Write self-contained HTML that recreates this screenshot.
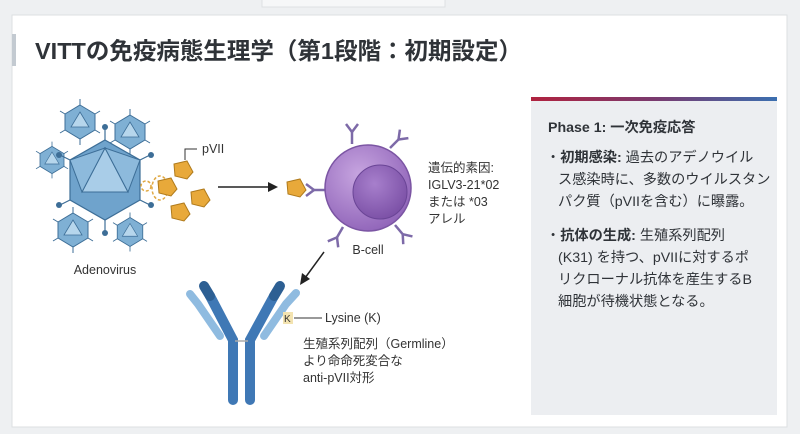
<!DOCTYPE html>
<html><head><meta charset="utf-8"><style>
html,body{margin:0;padding:0;width:800px;height:434px;overflow:hidden;background:#eef0f2;font-family:"Liberation Sans","Noto Sans CJK JP",sans-serif;}
</style></head><body>
<svg width="800" height="434" xmlns="http://www.w3.org/2000/svg" font-family="Liberation Sans, Noto Sans CJK JP, sans-serif">
<defs>
<linearGradient id="bar" x1="0" x2="1"><stop offset="0" stop-color="#b0223f"/><stop offset="0.5" stop-color="#7a3a6e"/><stop offset="1" stop-color="#3b6fb0"/></linearGradient>
<radialGradient id="cell" cx="0.4" cy="0.35" r="0.7"><stop offset="0" stop-color="#c7a5e0"/><stop offset="1" stop-color="#8f63b8"/></radialGradient>
<radialGradient id="nuc" cx="0.4" cy="0.35" r="0.7"><stop offset="0" stop-color="#a77fcc"/><stop offset="1" stop-color="#7a4fa5"/></radialGradient>
<g id="sv"><polygon points="0,-17 15,-8 15,8 0,17 -15,8 -15,-8" fill="#7fb0d4" stroke="#3d6e97" stroke-width="1"/><polygon points="0,-10 9,5 -9,5" fill="#b6d6ec" stroke="#3d6e97" stroke-width="0.8"/>
<g stroke="#3d6e97" stroke-width="1"><line x1="0" y1="-17" x2="0" y2="-23"/><line x1="0" y1="17" x2="0" y2="23"/><line x1="15" y1="-8" x2="20" y2="-11"/><line x1="-15" y1="-8" x2="-20" y2="-11"/><line x1="15" y1="8" x2="20" y2="11"/><line x1="-15" y1="8" x2="-20" y2="11"/></g></g>
<g id="frag"><polygon points="-9,-6 4,-9 10,2 4,9 -8,6" fill="#e8a93a" stroke="#b07b1c" stroke-width="1"/></g>
<g id="rec" stroke="#7d6aa8" stroke-width="2.5" fill="none"><line x1="0" y1="0" x2="0" y2="-12"/><line x1="0" y1="-12" x2="-6" y2="-20"/><line x1="0" y1="-12" x2="6" y2="-20"/></g>
</defs>
<rect x="262" y="-2" width="183" height="9" fill="#f6f7f8" stroke="#dde0e3"/>
<rect x="12" y="15" width="775" height="412" fill="#fff" stroke="#dcdfe2"/>
<rect x="12" y="34" width="4" height="32" fill="#c3cad1"/>
<text x="35" y="59" font-size="23.5" font-weight="bold" fill="#2f3338">VITTの免疫病態生理学（第1段階：初期設定）</text>
<!-- panel -->
<rect x="531" y="97" width="246" height="318" fill="#eceef1"/>
<rect x="531" y="97" width="246" height="4" fill="url(#bar)"/>
<g font-size="14.2" fill="#2f3338">
<text x="548" y="132" font-weight="bold">Phase 1: 一次免疫応答</text>
<text x="546" y="162">・<tspan font-weight="bold">初期感染:</tspan> 過去のアデノウイル</text>
<text x="558" y="184">ス感染時に、多数のウイルスタン</text>
<text x="558" y="206">パク質（pVIIを含む）に曝露。</text>
<text x="546" y="240">・<tspan font-weight="bold">抗体の生成:</tspan> 生殖系列配列</text>
<text x="558" y="262">(K31) を持つ、pVIIに対するポ</text>
<text x="558" y="284">リクローナル抗体を産生するB</text>
<text x="558" y="306">細胞が待機状態となる。</text>
</g>
<!-- viruses -->
<use href="#sv" x="80" y="122"/><use href="#sv" x="130" y="132"/><use href="#sv" x="52" y="160" transform="translate(52,160) scale(0.8) translate(-52,-160)"/><use href="#sv" x="73" y="230"/><use href="#sv" x="130" y="232" transform="translate(130,232) scale(0.85) translate(-130,-232)"/>
<g stroke="#3d6e97" stroke-width="1.2">
<line x1="105" y1="140" x2="105" y2="128"/><line x1="105" y1="220" x2="105" y2="232"/><line x1="70" y1="160" x2="60" y2="155"/><line x1="140" y1="160" x2="150" y2="155"/><line x1="70" y1="200" x2="60" y2="205"/><line x1="140" y1="200" x2="150" y2="205"/>
</g>
<g fill="#3d6e97"><circle cx="105" cy="127" r="3"/><circle cx="105" cy="233" r="3"/><circle cx="59" cy="155" r="3"/><circle cx="151" cy="155" r="3"/><circle cx="59" cy="205" r="3"/><circle cx="151" cy="205" r="3"/></g>
<polygon points="105,140 140,160 140,200 105,220 70,200 70,160" fill="#6fa3cc" stroke="#3d6e97" stroke-width="1.2"/>
<polygon points="105,148 128,192 82,192" fill="#a9cde8" stroke="#3d6e97"/>
<polygon points="105,148 82,192 70,160" fill="#8dbadc" stroke="#3d6e97"/>
<polygon points="105,148 128,192 140,160" fill="#8dbadc" stroke="#3d6e97"/>
<text x="105" y="274" font-size="12.5" fill="#333" text-anchor="middle">Adenovirus</text>
<g fill="none" stroke="#e0a842" stroke-width="1.5" stroke-dasharray="3,2"><ellipse cx="160" cy="188" rx="8" ry="12"/><ellipse cx="146" cy="186" rx="5" ry="5"/></g>
<use href="#frag" x="183" y="170"/><use href="#frag" x="167" y="187"/><use href="#frag" x="200" y="198"/><use href="#frag" x="180" y="212"/>
<polyline points="185,160 185,149 197,149" fill="none" stroke="#333" stroke-width="1"/>
<text x="202" y="153" font-size="12.5" fill="#333">pVII</text>
<line x1="218" y1="187" x2="270" y2="187" stroke="#222" stroke-width="1.5"/><polygon points="278,187 268,182 268,192" fill="#222"/>
<!-- B cell -->
<use href="#rec" x="352" y="144"/><use href="#rec" x="390" y="148" transform="rotate(45 390 148)"/><use href="#rec" x="343" y="227" transform="rotate(-150 343 227)"/><use href="#rec" x="395" y="225" transform="rotate(140 395 225)"/><use href="#rec" x="326" y="190" transform="rotate(-90 326 190)"/>
<circle cx="368" cy="188" r="43" fill="url(#cell)" stroke="#7b55a3" stroke-width="1.5"/>
<circle cx="380" cy="192" r="27" fill="url(#nuc)" stroke="#6a4596"/>
<use href="#frag" x="296" y="188"/>
<text x="368" y="254" font-size="12.5" fill="#333" text-anchor="middle">B-cell</text>
<g font-size="12.5" fill="#333"><text x="428" y="172">遺伝的素因:</text><text x="428" y="189">IGLV3-21*02</text><text x="428" y="206">または *03</text><text x="428" y="223">アレル</text></g>
<line x1="324" y1="252" x2="305" y2="278" stroke="#222" stroke-width="1.5"/><polygon points="300,285 302,273 310,279" fill="#222"/>
<!-- antibody -->
<g stroke-linecap="round" fill="none">
<path d="M233,400 L233,340 L210,296" stroke="#3f78b5" stroke-width="10"/>
<path d="M250,400 L250,340 L274,296" stroke="#3f78b5" stroke-width="10"/>
<path d="M210,296 L204,286" stroke="#2d5f93" stroke-width="10"/>
<path d="M274,296 L280,286" stroke="#2d5f93" stroke-width="10"/>
<path d="M220,336 L198,304 L190,294" stroke="#8fbbe0" stroke-width="8"/>
<path d="M264,336 L286,304 L296,293" stroke="#8fbbe0" stroke-width="8"/>
</g>
<line x1="235" y1="341" x2="248" y2="341" stroke="#aaa" stroke-width="1.5"/>
<rect x="283" y="312" width="10" height="12" fill="#f3e3b0"/>
<text x="284" y="322" font-size="10" fill="#333">K</text>
<line x1="294" y1="318" x2="322" y2="318" stroke="#333"/>
<g font-size="12.5" fill="#333"><text x="325" y="322">Lysine (K)</text><text x="303" y="348">生殖系列配列（Germline）</text><text x="303" y="365">より命命死変合な</text><text x="303" y="382">anti-pVII対形</text></g>
</svg>
</body></html>
